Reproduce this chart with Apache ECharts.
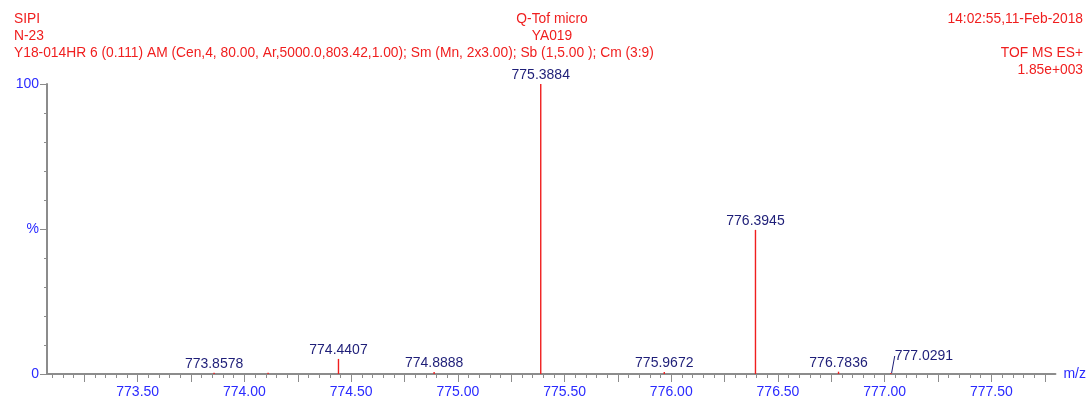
<!DOCTYPE html>
<html>
<head>
<meta charset="utf-8">
<script src="https://cdn.jsdelivr.net/npm/echarts@6/dist/echarts.min.js"></script>
<style>
html,body{margin:0;padding:0;background:#fff;}
#chart{width:1089px;height:401px;}
</style>
</head>
<body>
<div id="chart"></div>
<script>
// ---- data ----
var peakMz = [773.8578, 774.111, 774.4407, 774.8888, 775.3884, 775.9672, 776.3945, 776.7836, 777.0291];
var peakIntensity = [0.45, 0.4, 5.2, 0.7, 100, 0.7, 49.7, 0.8, 0.35];
var peakLabels = ['773.8578', '', '774.4407', '774.8888', '775.3884', '775.9672', '776.3945', '776.7836', '777.0291'];
var xTickLabels = [773.5, 774.0, 774.5, 775.0, 775.5, 776.0, 776.5, 777.0, 777.5];
var yTickLabels = [0, 50, 100];
var yTickText = ['0', '%', '100'];
var headerLeft = ['SIPI', 'N-23', 'Y18-014HR 6 (0.111) AM (Cen,4, 80.00, Ar,5000.0,803.42,1.00); Sm (Mn, 2x3.00); Sb (1,5.00 ); Cm (3:9)'];
var headerCenter = ['Q-Tof micro', 'YA019'];
var headerRight = ['14:02:55,11-Feb-2018', '', 'TOF MS ES+', '1.85e+003'];
var xMin = 773.075, xMax = 777.80;

// ---- axis decorations ----
var minorTicks = [];
for (var i = Math.ceil(xMin / 0.05); i * 0.05 <= xMax; i++) minorTicks.push(+(i * 0.05).toFixed(2));
var majorTicks = [];
for (var j = Math.ceil(xMin / 0.25); j * 0.25 <= xMax; j++) majorTicks.push(+(j * 0.25).toFixed(2));
var yMinor = [10, 20, 30, 40, 60, 70, 80, 90];

var RED = '#f01e1e', BLUE = '#2a2aff', NAVY = '#1e1e78', GREY = '#8c8c8c';
var FONT = '"Liberation Sans", Arial, sans-serif';
var SHIFTED = '777.0291';

var data = peakMz.map(function (m, k) {
  var item = { value: [m, peakIntensity[k]], labelText: peakLabels[k] };
  if (!peakLabels[k]) item.label = { show: false };
  if (peakLabels[k] === SHIFTED) {
    item.labelLine = { show: true, lineStyle: { color: NAVY, width: 1 } };
  }
  return item;
});

var graphics = [];
var HF = '13.8px ' + FONT;
headerLeft.forEach(function (t, k) {
  graphics.push({ type: 'text', x: 14, y: 19 + k * 17, style: { text: t, fill: RED, font: HF, textVerticalAlign: 'middle' } });
});
headerCenter.forEach(function (t, k) {
  graphics.push({ type: 'text', x: 552, y: 19 + k * 17, style: { text: t, fill: RED, font: HF, textAlign: 'center', textVerticalAlign: 'middle' } });
});
headerRight.forEach(function (t, k) {
  if (t) graphics.push({ type: 'text', x: 1083, y: 19 + k * 17, style: { text: t, fill: RED, font: HF, textAlign: 'right', textVerticalAlign: 'middle' } });
});

var chart = echarts.init(document.getElementById('chart'), null, { renderer: 'canvas' });
chart.setOption({
  animation: false,
  backgroundColor: '#ffffff',
  graphic: graphics,
  grid: { left: 47, right: 31, top: 84, bottom: 27, containLabel: false },
  xAxis: [{
    type: 'value', min: xMin, max: xMax, position: 'bottom',
    name: 'm/z', nameLocation: 'end', nameGap: 8,
    nameTextStyle: { color: BLUE, fontSize: 14, fontFamily: FONT, verticalAlign: 'middle' },
    axisLine: { show: true, onZero: false, lineStyle: { color: GREY, width: 2 } },
    axisTick: { show: true, customValues: minorTicks, length: 4, lineStyle: { color: GREY, width: 1 } },
    axisLabel: { show: true, customValues: xTickLabels, color: BLUE, fontSize: 14, fontFamily: FONT, margin: 11,
      formatter: function (v) { return v.toFixed(2); } },
    splitLine: { show: false }
  }, {
    type: 'value', min: xMin, max: xMax, position: 'bottom',
    axisLine: { show: false, onZero: false },
    axisTick: { show: true, customValues: majorTicks, length: 8, lineStyle: { color: GREY, width: 1 } },
    axisLabel: { show: false },
    splitLine: { show: false }
  }],
  yAxis: [{
    type: 'value', min: 0, max: 100, position: 'left',
    axisLine: { show: true, onZero: false, lineStyle: { color: GREY, width: 2 } },
    axisTick: { show: true, customValues: yTickLabels, length: 7, lineStyle: { color: GREY, width: 1 } },
    axisLabel: { show: true, customValues: yTickLabels, color: BLUE, fontSize: 14, fontFamily: FONT, margin: 8,
      formatter: function (v) { return yTickText[yTickLabels.indexOf(v)]; } },
    splitLine: { show: false }
  }, {
    type: 'value', min: 0, max: 100, position: 'left',
    axisLine: { show: false, onZero: false },
    axisTick: { show: true, customValues: yMinor, length: 3, lineStyle: { color: GREY, width: 1 } },
    axisLabel: { show: false },
    splitLine: { show: false }
  }],
  series: [{
    type: 'bar',
    xAxisIndex: 0, yAxisIndex: 0,
    barWidth: 1.4,
    itemStyle: { color: RED },
    label: {
      show: true, position: 'top', distance: 2, color: NAVY, fontSize: 14, fontFamily: FONT,
      formatter: function (p) { return p.data.labelText; }
    },
    labelLayout: function (params) {
      if (peakLabels[params.dataIndex] === SHIFTED) {
        return { dx: 33, dy: -8 };
      }
      return {};
    },
    labelLine: { show: false, lineStyle: { color: NAVY, width: 1 } },
    data: data
  }]
});
</script>
</body>
</html>
